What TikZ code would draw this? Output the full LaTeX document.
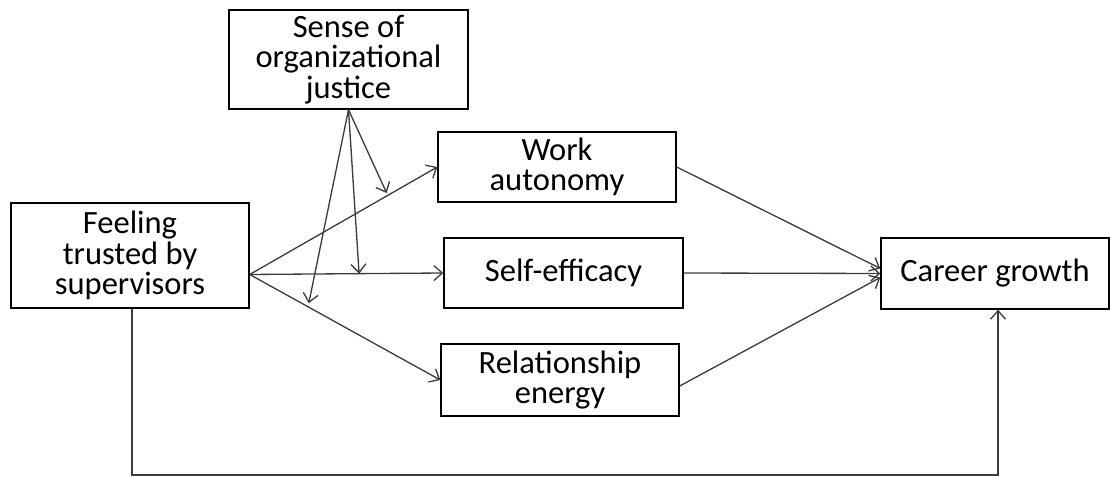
\documentclass[tikz,border=0pt]{standalone}
\usepackage{fontspec}
\setmainfont{Carlito}
\usepackage{tikz}
\usetikzlibrary{positioning,calc,arrows.meta}
\definecolor{modelline}{RGB}{60,60,60}
\tikzset{
    model box/.style={
        rectangle,
        draw=black,
        line width=0.8pt,
        fill=white,
        inner sep=0pt,
        align=center,
        font=\fontsize{18.5}{17.2}\selectfont,
    },
    model arrow/.style={
        draw=modelline,
        line width=0.75pt,
        -{Straight Barb[length=0.17cm,width=0.3cm]},
    },
}
\begin{document}
\begin{tikzpicture}
    %Fix the page to the size of the reference
    \useasboundingbox (0,0) rectangle (22.2,-9.54);

    \node[model box, minimum width=4.78cm, minimum height=1.98cm] (justice) at (6.97,-1.19) {Sense of\\organizational\\justice};
    \node[model box, minimum width=4.76cm, minimum height=2.10cm] (trust) at (2.60,-5.11) {Feeling\\trusted by\\supervisors};
    \node[model box, minimum width=4.76cm, minimum height=1.40cm] (autonomy) at (11.14,-3.34) {Work\\autonomy};
    \node[model box, minimum width=4.78cm, minimum height=1.40cm] (efficacy) at (11.27,-5.46) {Self-efficacy};
    \node[model box, minimum width=4.76cm, minimum height=1.44cm] (energy) at (11.20,-7.60) {Relationship\\energy};
    \node[model box, minimum width=4.56cm, minimum height=1.42cm] (career) at (19.90,-5.47) {Career growth};

    \coordinate (trust-out) at ($(trust.east) + (0,-0.38)$);
    \coordinate (low-corner) at (19.96,-9.50);

    \draw[model arrow] (trust-out) -- coordinate[pos=0.73] (mod-autonomy) (autonomy.west);
    \draw[model arrow] (trust-out) -- coordinate[pos=0.565] (mod-efficacy) (efficacy.west);
    \draw[model arrow] (trust-out) -- coordinate[pos=0.31] (mod-energy) (energy.west);

    \draw[model arrow] (justice.south) -- ($(mod-autonomy) + (0,0.06)$);
    \draw[model arrow] (justice.south) -- (mod-efficacy);
    \draw[model arrow] (justice.south) -- ($(mod-energy) + (0,0.08)$);

    \draw[model arrow] (autonomy.east) -- ($(career.west) + (0,0.1)$);
    \draw[model arrow] (efficacy.east) -- (career.west);
    \draw[model arrow] ($(energy.east) + (0,-0.12)$) -- ($(career.west) + (0,-0.08)$);

    \draw[model arrow] ($(trust.south) + (0.04,0)$) |- (low-corner) -- (low-corner |- career.south);
\end{tikzpicture}
\end{document}
